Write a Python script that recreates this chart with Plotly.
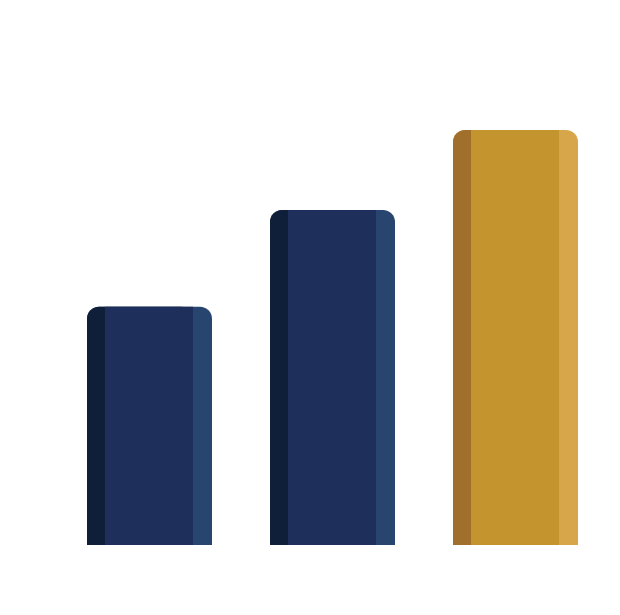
import plotly.graph_objects as go

categories = [0, 1, 2]
values = [57.4, 80.7, 100.0]
left_colors = ["#0f1f3a", "#0f1f3a", "#9f6f2b"]
main_colors = ["#1d2f5a", "#1d2f5a", "#c4942e"]
right_colors = ["#284570", "#284570", "#d8a64a"]

px_per_unit = 183.0
bar_w = 125.0 / px_per_unit
left_w = 18.0 / px_per_unit
right_w = 19.0 / px_per_unit
off = -bar_w / 2

fig = go.Figure()
# full bar (right strip colour), rounded
fig.add_trace(go.Bar(x=categories, y=values, width=[bar_w] * 3, offset=[off] * 3,
                     marker=dict(color=right_colors, cornerradius=12, line=dict(width=0)),
                     hoverinfo="skip"))
# left + middle (dark colour), rounded
fig.add_trace(go.Bar(x=categories, y=values, width=[bar_w - right_w] * 3, offset=[off] * 3,
                     marker=dict(color=left_colors, cornerradius=12, line=dict(width=0)),
                     hoverinfo="skip"))
# middle (main colour), flat
fig.add_trace(go.Bar(x=categories, y=values, width=[bar_w - left_w - right_w] * 3,
                     offset=[off + left_w] * 3,
                     marker=dict(color=main_colors, line=dict(width=0)),
                     hoverinfo="skip"))

W, H = 620, 615
center0 = 141.5
x0 = -center0 / px_per_unit
x1 = (W - center0) / px_per_unit
plot_h = 537
fig.update_layout(
    width=W, height=H,
    margin=dict(l=0, r=0, t=0, b=H - plot_h),
    barmode="overlay",
    showlegend=False,
    plot_bgcolor="white", paper_bgcolor="white",
    xaxis=dict(range=[x0, x1], visible=False, fixedrange=True),
    yaxis=dict(range=[0, 100 * plot_h / 415], visible=False, fixedrange=True),
)
fig.write_html("out.html", config={"displayModeBar": False})
